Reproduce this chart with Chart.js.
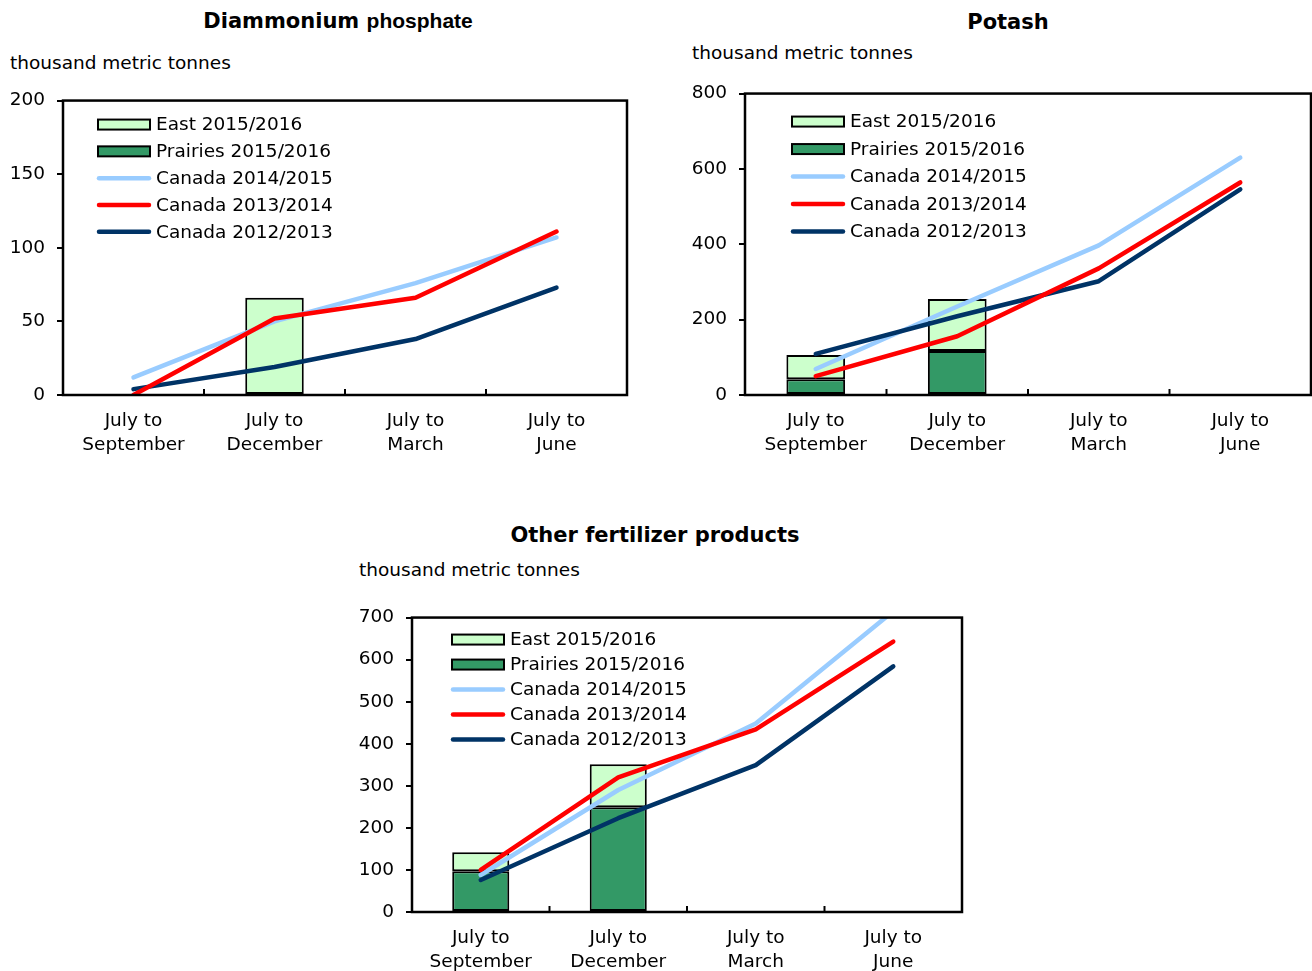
<!DOCTYPE html>
<html><head><meta charset="utf-8">
<script src="https://cdn.jsdelivr.net/npm/chart.js@4.4.0/dist/chart.umd.min.js"></script>
<style>
html,body{margin:0;padding:0;background:#fff;width:1312px;height:971px;overflow:hidden;position:relative;font-family:'DejaVu Sans',sans-serif;color:#000}
.t{position:absolute;white-space:nowrap;line-height:1;}
.ttl{position:absolute;white-space:nowrap;line-height:1;font-weight:bold;font-size:21px;transform:translateX(-50%);}
.box{position:absolute;}
</style></head><body>

<div class="ttl" style="left:338px;top:10px;">Diammonium <span style="font-family:'Liberation Sans',Arial,sans-serif;font-size:21px;">phosphate</span></div>
<div class="t" style="left:10px;top:54px;font-size:18.5px;">thousand metric tonnes</div>
<div class="box" style="left:0px;top:77px;width:640px;height:390px;"><canvas id="c1"></canvas></div>

<div class="ttl" style="left:1008px;top:12px;">Potash</div>
<div class="t" style="left:692px;top:44px;font-size:18.5px;">thousand metric tonnes</div>
<div class="box" style="left:660px;top:70px;width:652px;height:397px;"><canvas id="c2"></canvas></div>

<div class="ttl" style="left:655px;top:525px;">Other fertilizer products</div>
<div class="t" style="left:359px;top:561px;font-size:18.5px;">thousand metric tonnes</div>
<div class="box" style="left:340px;top:594px;width:640px;height:377px;"><canvas id="c3"></canvas></div>

<script>
// ---- data ----
const categories = [["July to","September"],["July to","December"],["July to","March"],["July to","June"]];

const dapPrairies = [null, null, null, null];
const dapEast     = [null, 66, null, null];
const dap2014     = [12, 50, 76, 107];
const dap2013     = [0, 52, 66, 111];
const dap2012     = [4, 19, 38, 73];

const potPrairies = [42, 117, null, null];
const potEast     = [64, 138, null, null];
const pot2014     = [69, 235, 397, 630];
const pot2013     = [50, 156, 336, 564];
const pot2012     = [109, 209, 302, 546];

const othPrairies = [97, 249, null, null];
const othEast     = [45, 102, null, null];
const oth2014     = [88, 290, 448, 715];
const oth2013     = [100, 320, 434, 643];
const oth2012     = [76, 223, 349, 584];

const seriesLabels = ["Prairies 2015/2016","East 2015/2016","Canada 2014/2015","Canada 2013/2014","Canada 2012/2013"];
const dapTicks = [0,50,100,150,200];
const potTicks = [0,200,400,600,800];
const othTicks = [0,100,200,300,400,500,600,700];

// ---- style ----
const FS = 18.5;
const FONT = {family:"'DejaVu Sans', Verdana, sans-serif", size:FS, lineHeight:1.25};
Chart.defaults.color = '#000';
const C = {east:'#CCFFCC', prairies:'#339966', c14:'#99CCFF', c13:'#FF0000', c12:'#003366'};

const framePlugin = {
  id:'frame',
  afterDatasetsDraw(chart){
    const ctx = chart.ctx, a = chart.chartArea, x = chart.scales.x;
    ctx.save();
    ctx.strokeStyle = '#000'; ctx.lineWidth = 2.5;
    ctx.strokeRect(a.left, a.top, a.right-a.left, a.bottom-a.top);
    ctx.lineWidth = 2;
    const n = chart.data.labels.length;
    for (let i = 1; i < n; i++) {
      const px = (x.getPixelForValue(i-1) + x.getPixelForValue(i)) / 2;
      ctx.beginPath(); ctx.moveTo(px, a.bottom); ctx.lineTo(px, a.bottom-6); ctx.stroke();
    }
    ctx.restore();
  }
};

const legendPlugin = {
  id:'inLegend',
  afterDraw(chart, args, opts){
    const ctx = chart.ctx, a = chart.chartArea;
    ctx.save();
    ctx.font = FS + "px 'DejaVu Sans'";
    ctx.textBaseline = 'middle';
    opts.order.forEach((idx, k) => {
      const ds = chart.data.datasets[idx];
      const y = a.top + opts.dy + k*opts.gap;
      const x = a.left + opts.dx;
      if (ds.type === 'bar') {
        ctx.fillStyle = ds.backgroundColor;
        ctx.fillRect(x, y-5, 52, 10);
        ctx.strokeStyle = '#000'; ctx.lineWidth = 2;
        ctx.strokeRect(x, y-5, 52, 10);
      } else {
        ctx.strokeStyle = ds.borderColor; ctx.lineWidth = 4.5; ctx.lineCap = 'round';
        ctx.beginPath(); ctx.moveTo(x+1, y); ctx.lineTo(x+51, y); ctx.stroke();
      }
      ctx.fillStyle = '#000';
      ctx.fillText(ds.label, x+58, y+1);
    });
    ctx.restore();
  }
};

function makeChart(id, prairies, east, s14, s13, s12, ticks, geom) {
  const maxV = ticks[ticks.length-1], step = ticks[1]-ticks[0];
  const barDs = (label, data, color) => ({type:'bar', label, data, backgroundColor:color, borderColor:'#000', borderWidth:2, borderSkipped:false, stack:'bars', order:5, barPercentage:0.415, categoryPercentage:1});
  const lineDs = (label, data, color, order, st) => ({type:'line', label, data, borderColor:color, backgroundColor:color, borderWidth:4.5, pointRadius:0, tension:0, borderCapStyle:'round', borderJoinStyle:'round', stack:st, order, clip:0});
  return new Chart(document.getElementById(id), {
    data:{
      labels: categories,
      datasets:[
        barDs(seriesLabels[0], prairies, C.prairies),
        barDs(seriesLabels[1], east, C.east),
        lineDs(seriesLabels[2], s14, C.c14, 3, 'l14'),
        lineDs(seriesLabels[3], s13, C.c13, 1, 'l13'),
        lineDs(seriesLabels[4], s12, C.c12, 2, 'l12')
      ]
    },
    options:{
      responsive:true, maintainAspectRatio:false, animation:false,
      layout:{padding:{top:0, right:geom.pr, left:0, bottom:0}},
      plugins:{legend:{display:false}, tooltip:{enabled:false},
        inLegend:{order:[1,0,2,3,4], dx:geom.ldx, dy:geom.ldy, gap:geom.lgap}},
      scales:{
        x:{stacked:true, offset:true, grid:{display:false}, border:{display:false},
           ticks:{font:FONT, color:'#000', padding:7, maxRotation:0, autoSkip:false},
           afterFit(s){ s.height = geom.xh; }},
        y:{stacked:true, min:0, max:maxV, border:{display:false},
           grid:{drawOnChartArea:false, drawTicks:true, tickLength:6, color:'#000', lineWidth:2},
           ticks:{font:FONT, color:'#000', padding:12, stepSize:step},
           afterFit(s){ s.width = geom.yw; }}
      }
    },
    plugins:[framePlugin, legendPlugin]
  });
}

makeChart('c1', dapPrairies, dapEast, dap2014, dap2013, dap2012, dapTicks,
  {pr:13, xh:72, yw:63, ldx:35, ldy:24, lgap:26.8});
makeChart('c2', potPrairies, potEast, pot2014, pot2013, pot2012, potTicks,
  {pr:1, xh:72, yw:85, ldx:47, ldy:28, lgap:27.5});
makeChart('c3', othPrairies, othEast, oth2014, oth2013, oth2012, othTicks,
  {pr:18, xh:59, yw:72, ldx:40, ldy:22, lgap:25});
</script>
</body></html>
